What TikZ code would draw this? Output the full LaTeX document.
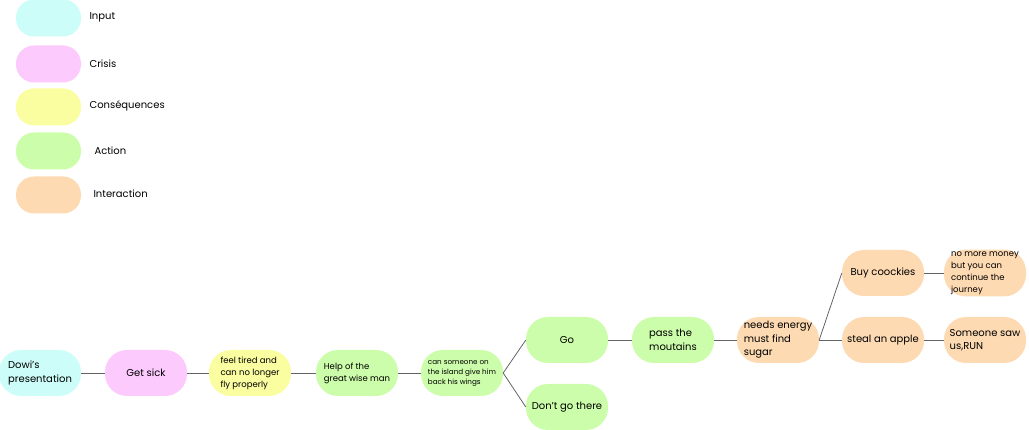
\documentclass[tikz,border=0pt]{standalone}
\usepackage{fontspec}
\setmainfont{Poppins}
\definecolor{cinput}{RGB}{204,253,248}
\definecolor{ccrisis}{RGB}{253,202,253}
\definecolor{cconseq}{RGB}{250,253,160}
\definecolor{caction}{RGB}{204,253,170}
\definecolor{cinter}{RGB}{253,218,178}
\definecolor{cline}{RGB}{100,100,100}
\tikzset{
  pill/.style={rounded corners=22pt, minimum width=82pt, minimum height=46pt, inner sep=2pt, align=left, font=\fontsize{10}{13.5}\selectfont},
  legpill/.style={rounded corners=18pt, minimum width=65pt, minimum height=37pt, inner sep=0pt},
  legtext/.style={anchor=west, font=\fontsize{10}{12}\selectfont},
  link/.style={draw=cline, line width=0.8pt},
}
\begin{document}
\begin{tikzpicture}[x=1pt,y=-1pt]
\useasboundingbox (0,0) rectangle (1029,430);
% legend
\node[legpill, fill=cinput] (l1) at (48.5,18) {};
\node[legpill, fill=ccrisis] (l2) at (48.5,64) {};
\node[legpill, fill=cconseq] (l3) at (48.5,107) {};
\node[legpill, fill=caction] (l4) at (48.5,151) {};
\node[legpill, fill=cinter] (l5) at (48.5,195) {};
\node[legtext] (t1) at (86,17) {Input};
\node[legtext] (t2) at (86,64) {Crisis};
\node[legtext] (t3) at (86,106) {Conséquences};
\node[legtext] (t4) at (91,151) {Action};
\node[legtext] (t5) at (90,194) {Interaction};
% main chain
\node[pill, fill=cinput] (dowi) at (40,373) {Dowi’s\\presentation};
\node[pill, fill=ccrisis] (sick) at (146,373) {Get sick};
\node[pill, fill=cconseq, font=\fontsize{8.5}{12}\selectfont] (tired) at (250,373) {feel tired and\\can no longer\\fly properly};
\node[pill, fill=caction, font=\fontsize{8.5}{12}\selectfont] (help) at (357,373) {Help of the\\great wise man};
\node[pill, fill=caction, font=\fontsize{7.2}{10}\selectfont] (cs) at (462,373) {can someone on\\the island give him\\back his wings};
\node[pill, fill=caction] (go) at (567,340) {Go};
\node[pill, fill=caction] (dont) at (567,407) {Don’t go there};
\node[pill, fill=caction] (pass) at (673,340) {pass the\\moutains};
\node[pill, fill=cinter] (needs) at (778,340) {needs energy\\must find\\sugar};
\node[pill, fill=cinter, font=\fontsize{8.5}{12}\selectfont] (money) at (985,273) {no more money\\but you can\\continue the\\journey};
\node[pill, fill=cinter] (buy) at (883,273) {Buy coockies};
\node[pill, fill=cinter] (steal) at (883,340) {steal an apple};
\node[pill, fill=cinter] (saw) at (985,340) {Someone saw\\us,RUN};
% connectors
\draw[link] (dowi) -- (sick);
\draw[link] (sick) -- (tired);
\draw[link] (tired) -- (help);
\draw[link] (help) -- (cs);
\draw[link] (cs.east) -- (go.west);
\draw[link] (cs.east) -- (dont.west);
\draw[link] (go) -- (pass);
\draw[link] (pass) -- (needs);
\draw[link] (needs.east) -- (buy.west);
\draw[link] (needs.east) -- (steal.west);
\draw[link] (buy) -- (money);
\draw[link] (steal) -- (saw);
\end{tikzpicture}
\end{document}
